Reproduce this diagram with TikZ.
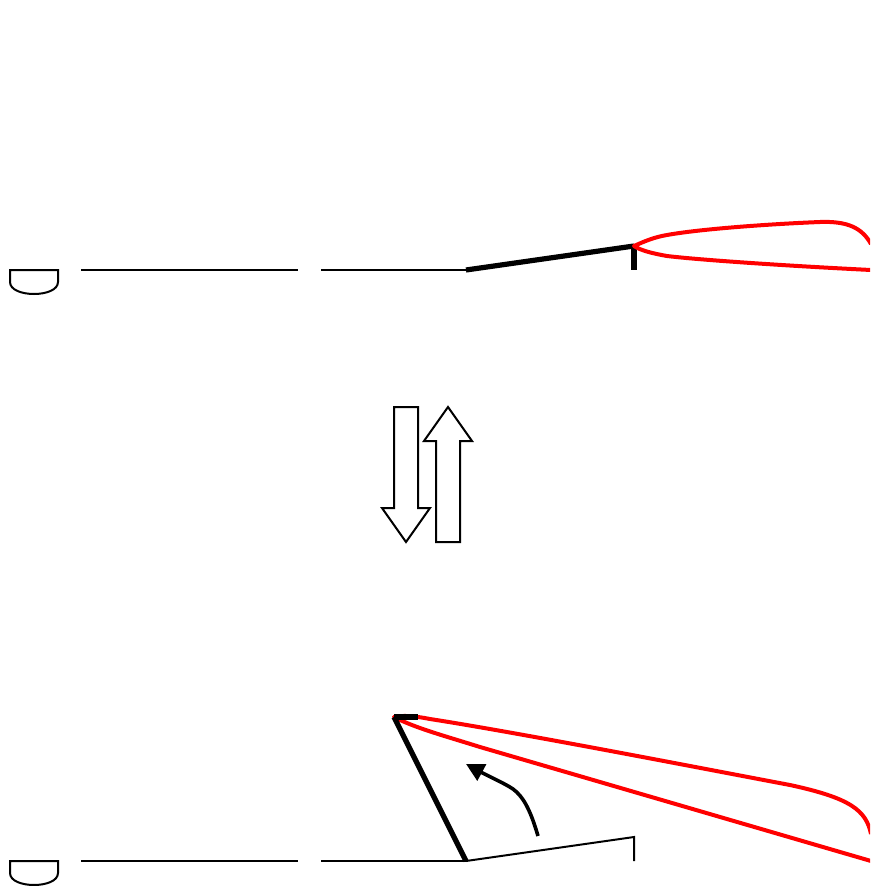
\documentclass[tikz,border=0pt]{standalone}
\usepackage{xcolor}
\usetikzlibrary{arrows.meta}
\definecolor{FoilRed}{HTML}{FF0000}

\begin{document}
\begin{tikzpicture}[
  x=1pt, y=-1pt,
  wire/.style={line width=2pt, draw=black},
  flap/.style={line width=5.2pt, draw=black},
  foil/.style={line width=4pt, draw=FoilRed, line join=round},
  hollow/.style={line width=2pt, draw=black, fill=white, line join=miter},
  swing/.style={-{Triangle[length=18pt,width=18pt]}, line width=3.6pt, draw=black}
]
\path[use as bounding box, clip] (0,0) rectangle (870,886);

% upper position
\coordinate (hingeA) at (466,270);
\coordinate (tipA) at (634,246);
\coordinate (tabA) at (634,270);
\coordinate (wireAa) at (81,270);
\coordinate (wireAb) at (298,270);
\coordinate (wireAc) at (321,270);
\coordinate (endAu) at (871,244);
\coordinate (endAl) at (871,270);

\draw[wire] (10,270) -- (58,270) -- (58,282) .. controls (58,298) and (10,298) .. (10,282) -- cycle;
\draw[wire] (wireAa) -- (wireAb);
\draw[wire] (wireAc) -- (hingeA);
\draw[flap] (hingeA) -- (tipA);
\draw[flap, line cap=butt] (tipA) -- (tabA);
\draw[foil] (endAl) .. controls (790,266) and (700,260) .. (667,256)
  .. controls (650,253) and (640,250) .. (tipA)
  .. controls (645,241) and (655,237) .. (667,235)
  .. controls (700,229) and (770,224) .. (820,222)
  .. controls (848,221) and (862,228) .. (endAu);

% the two arrows
\draw[hollow] (394,407) -- (418,407) -- (418,508) -- (430,508) -- (406,542) -- (382,508) -- (394,508) -- cycle;
\draw[hollow] (436,542) -- (460,542) -- (460,441) -- (472,441) -- (448,407) -- (424,441) -- (436,441) -- cycle;

% lower position
\coordinate (hingeB) at (466,861);
\coordinate (tipB) at (394,717);
\coordinate (stubB) at (418,717);
\coordinate (wireBa) at (81,861);
\coordinate (wireBb) at (298,861);
\coordinate (wireBc) at (321,861);
\coordinate (restB) at (634,837);
\coordinate (tabB) at (634,861);
\coordinate (endBu) at (871,834);
\coordinate (endBl) at (871,861);
\coordinate (swingA) at (538,836);
\coordinate (swingB) at (466,764);

\draw[wire] (10,861) -- (58,861) -- (58,873) .. controls (58,889) and (10,889) .. (10,873) -- cycle;
\draw[wire] (wireBa) -- (wireBb);
\draw[wire] (wireBc) -- (hingeB);
\draw[wire] (hingeB) -- (restB) -- (tabB);
\draw[foil] (endBl) -- (480,747) .. controls (445,736) and (415,728) .. (tipB)
  .. controls (402,715) and (415,716) .. (430,719)
  .. controls (520,733) and (700,768) .. (790,785)
  .. controls (850,798) and (866,810) .. (endBu);
\draw[flap] (hingeB) -- (tipB);
\draw[flap, line cap=butt] (tipB) -- (stubB);
\draw[swing] (swingA) .. controls (531,812) and (524,797) .. (513,789) .. controls (504,783) and (490,777) .. (swingB);
\end{tikzpicture}
\end{document}
